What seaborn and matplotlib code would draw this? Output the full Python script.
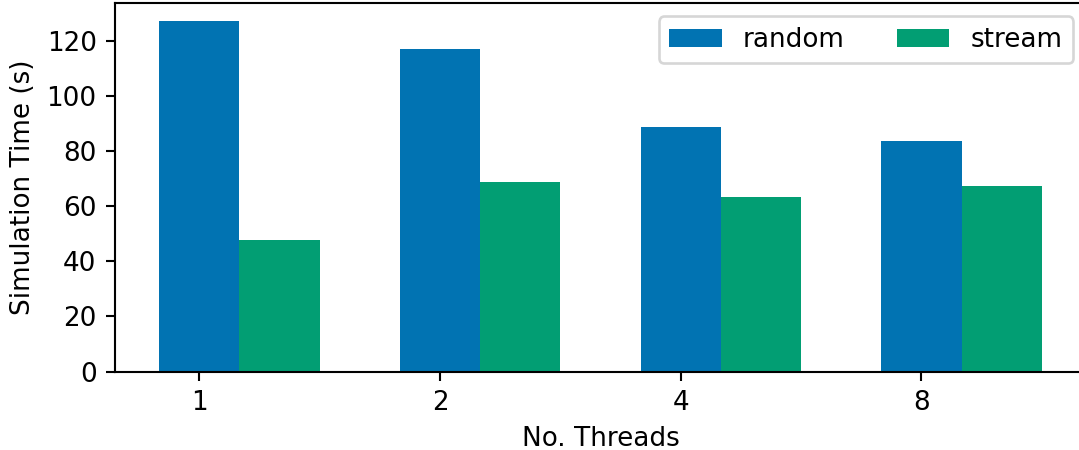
import matplotlib
matplotlib.use("Agg")
import matplotlib.pyplot as plt
import pandas as pd
import seaborn as sns

# Measured run times per thread count
threads = ["1", "2", "4", "8"]
random_times = [127.3, 117.1, 88.8, 83.7]
stream_times = [47.8, 68.8, 63.4, 67.4]
series = ["random", "stream"]
colors = ["#0173b2", "#029e73"]

df = pd.DataFrame({
    "threads": threads * 2,
    "pattern": [series[0]] * len(threads) + [series[1]] * len(threads),
    "time": random_times + stream_times,
})

dpi = 189
fig = plt.figure(figsize=(1079 / dpi, 450 / dpi), dpi=dpi)
ax = fig.add_axes([115 / 1079, 78.5 / 450, 971 / 1079, 368.2 / 450])

group_width = 2 / 3
sns.barplot(
    data=df, x="threads", y="time", hue="pattern", hue_order=series,
    order=threads, palette=colors, saturation=1,
    width=group_width, linewidth=0, errorbar=None, ax=ax,
)

# ticks sit under the first bar of each group
offset = group_width / 4
ax.set_xticks([i - offset for i in range(len(threads))])
ax.set_xticklabels(threads)
ax.set_xlim(-0.5167, len(threads) - 1 + 0.5167)
ax.set_ylim(0, max(random_times + stream_times) * 1.05)

ax.set_xlabel("No. Threads")
ax.set_ylabel("Simulation Time (s)")
ax.legend(loc="upper right", ncol=2, title=None)

fig.savefig("out.png", dpi=dpi)
